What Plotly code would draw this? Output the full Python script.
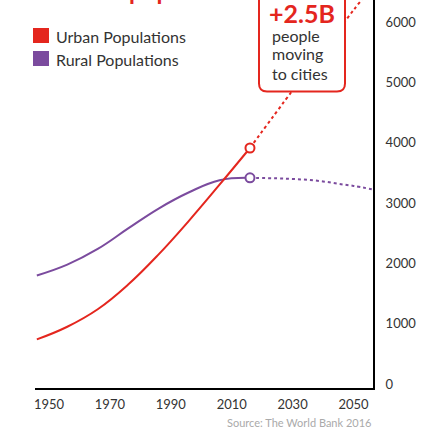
import plotly.graph_objects as go

# ---- data (values in millions of people) ----
hist_years = [1946, 1956, 1966, 1976, 1986, 1996, 2006, 2016]
urban_hist = [740, 950, 1240, 1650, 2150, 2710, 3305, 3914]
rural_hist = [1800, 1980, 2240, 2580, 2910, 3180, 3380, 3420]

proj_years_u = [2016, 2030, 2040, 2050, 2056]
urban_proj = [3914, 4870, 5530, 6200, 6580]
proj_years_r = [2016, 2025, 2030, 2035, 2040, 2045, 2050, 2056]
rural_proj = [3420, 3410, 3400, 3385, 3360, 3320, 3285, 3230]

x_ticks = [1950, 1970, 1990, 2010, 2030, 2050]
y_ticks = [0, 1000, 2000, 3000, 4000, 5000, 6000]

RED = "#E4261E"
PURPLE = "#7B4B9E"
FONT = "Lato"
TXT = "#333333"

W, H = 436, 428
L, R, T, B = 35, 63, 0, 40
PW, PH = W - L - R, H - T - B


def px(x):
    return (x - L) / PW


def py(y):
    return (T + PH - y) / PH


fig = go.Figure()

fig.add_trace(go.Scatter(x=proj_years_r, y=rural_proj, mode="lines",
                         line=dict(color=PURPLE, width=2, dash="dot", shape="spline"),
                         showlegend=False, hoverinfo="skip"))
fig.add_trace(go.Scatter(x=proj_years_u, y=urban_proj, mode="lines",
                         line=dict(color=RED, width=2, dash="dot", shape="spline"),
                         showlegend=False, hoverinfo="skip"))
fig.add_trace(go.Scatter(x=hist_years, y=rural_hist, mode="lines",
                         line=dict(color=PURPLE, width=2, shape="spline", smoothing=1.2),
                         name="Rural Populations", showlegend=False))
fig.add_trace(go.Scatter(x=hist_years, y=urban_hist, mode="lines",
                         line=dict(color=RED, width=2, shape="spline", smoothing=1.2),
                         name="Urban Populations", showlegend=False))
# end-point circles
fig.add_trace(go.Scatter(x=[hist_years[-1]], y=[rural_hist[-1]], mode="markers",
                         marker=dict(size=9, color="white", line=dict(color=PURPLE, width=2)),
                         showlegend=False, cliponaxis=False))
fig.add_trace(go.Scatter(x=[hist_years[-1]], y=[urban_hist[-1]], mode="markers",
                         marker=dict(size=9, color="white", line=dict(color=RED, width=2)),
                         showlegend=False, cliponaxis=False))

# callout box (rounded, white fill, covers the dotted line)
bl, br, bb, bt, r = 259, 345, 91.5, -20, 8
rx, ry = r / PW, r / PH
path = (f"M {px(bl)},{py(bt)} L {px(bl)},{py(bb) + ry} "
        f"Q {px(bl)},{py(bb)} {px(bl) + rx},{py(bb)} "
        f"L {px(br) - rx},{py(bb)} Q {px(br)},{py(bb)} {px(br)},{py(bb) + ry} "
        f"L {px(br)},{py(bt)} Z")
shapes = [dict(type="path", xref="paper", yref="paper", path=path,
               fillcolor="white", line=dict(color=RED, width=2), layer="above")]

# custom legend squares
for (y0, col) in [(28, RED), (51, PURPLE)]:
    shapes.append(dict(type="rect", xref="paper", yref="paper",
                       x0=px(33), x1=px(49), y0=py(y0 + 15), y1=py(y0),
                       fillcolor=col, line=dict(width=0), layer="above"))

annotations = [
    dict(text="Urban Populations", x=px(54), y=py(36), xref="paper", yref="paper",
         xanchor="left", yanchor="middle", showarrow=False,
         font=dict(family=FONT, size=16, color=TXT)),
    dict(text="Rural Populations", x=px(54), y=py(59), xref="paper", yref="paper",
         xanchor="left", yanchor="middle", showarrow=False,
         font=dict(family=FONT, size=16, color=TXT)),
    dict(text="<b>+2.5B</b>", x=px(302), y=py(13), xref="paper", yref="paper",
         xanchor="center", yanchor="middle", showarrow=False,
         font=dict(family=FONT, size=25, color=RED)),
    dict(text="people", x=px(270), y=py(35), xref="paper", yref="paper",
         xanchor="left", yanchor="middle", showarrow=False,
         font=dict(family=FONT, size=16, color=TXT)),
    dict(text="moving", x=px(270), y=py(54), xref="paper", yref="paper",
         xanchor="left", yanchor="middle", showarrow=False,
         font=dict(family=FONT, size=16, color=TXT)),
    dict(text="to cities", x=px(270), y=py(73), xref="paper", yref="paper",
         xanchor="left", yanchor="middle", showarrow=False,
         font=dict(family=FONT, size=16, color=TXT)),
    dict(text="Source: The World Bank 2016", x=px(373), y=py(423), xref="paper", yref="paper",
         xanchor="right", yanchor="middle", showarrow=False,
         font=dict(family=FONT, size=11, color="#AAAAAA")),
    dict(text="<b>population</b>", x=px(127), y=py(-10), xref="paper", yref="paper",
         xanchor="left", yanchor="middle", showarrow=False,
         font=dict(family=FONT, size=24, color=RED)),
]

fig.update_layout(
    width=W, height=H,
    margin=dict(l=L, r=R, t=T, b=B, pad=0),
    paper_bgcolor="white", plot_bgcolor="white",
    shapes=shapes, annotations=annotations,
    font=dict(family=FONT, color=TXT),
    xaxis=dict(range=[1945.4, 2056.4], tickvals=x_ticks, ticks="",
               showgrid=False, zeroline=False, showline=True,
               linecolor="black", linewidth=2, ticklabelstandoff=3,
               tickfont=dict(family=FONT, size=13, color=TXT)),
    yaxis=dict(range=[-66, 6368], tickvals=y_ticks, ticks="", side="right",
               showgrid=False, zeroline=False, showline=True,
               linecolor="black", linewidth=2, ticklabelstandoff=8,
               tickfont=dict(family=FONT, size=13, color=TXT)),
)

fig.write_html("out.html", config={"displayModeBar": False},
               post_script="document.body.style.margin='0';document.body.style.overflow='hidden';")
